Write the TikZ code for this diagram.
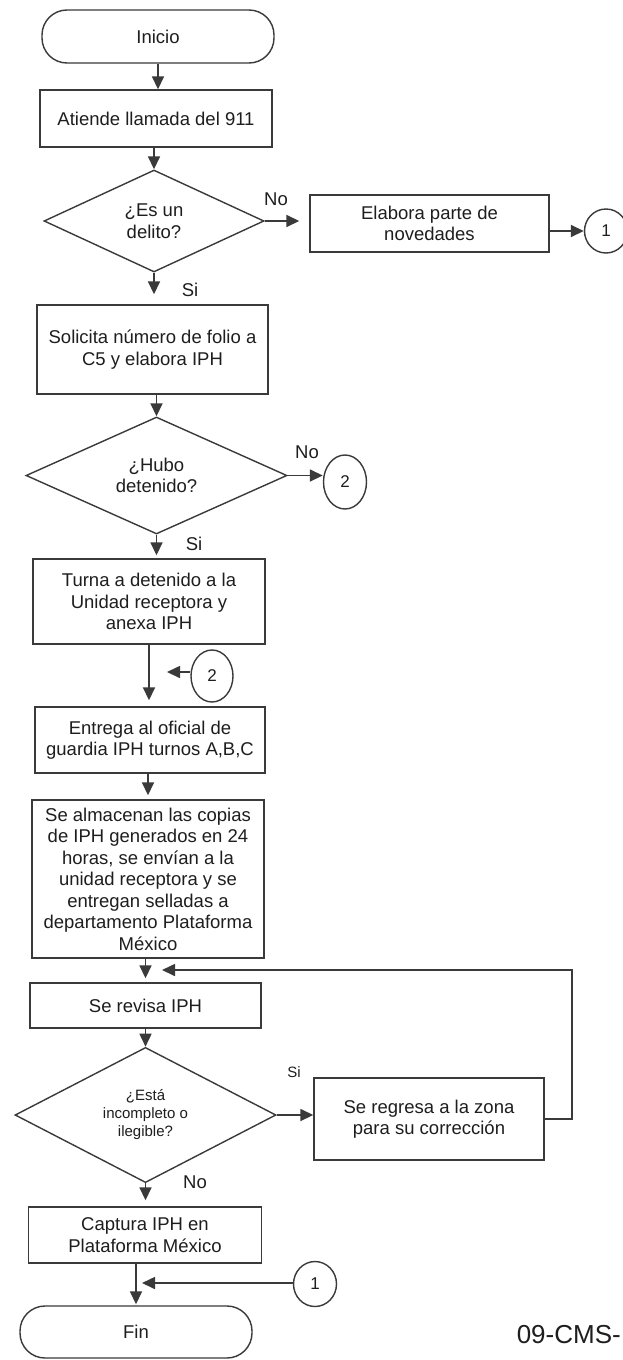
\documentclass[tikz,border=0pt]{standalone}
\usepackage{fontspec}
\setmainfont{Liberation Sans}
\usetikzlibrary{shapes.geometric,arrows.meta}

\definecolor{linegray}{HTML}{3A3A3A}
\definecolor{inkblack}{HTML}{1E1E1E}

\tikzset{
  base/.style={draw=linegray, line width=1.4pt, text=inkblack, align=center,
    inner sep=2pt, font=\fontsize{18.5}{21.5}\selectfont},
  proc/.style={base, rectangle},
  term/.style={base, rectangle, rounded corners=25pt},
  decision/.style={base, diamond, inner sep=0pt},
  conn/.style={base, ellipse, inner sep=0pt, minimum width=43pt, minimum height=54pt,
    font=\fontsize{17}{19}\selectfont},
  lbl/.style={text=inkblack, inner sep=0pt, font=\fontsize{18.5}{21.5}\selectfont},
  smalltext/.style={font=\fontsize{15}{18}\selectfont},
  arr/.style={draw=linegray, line width=1.6pt,
    -{Triangle[length=13pt,width=12pt]}}
}

\begin{document}
\begin{tikzpicture}[x=1pt,y=-1pt]
\useasboundingbox[fill=white] (0,0) rectangle (622,1360);

% process steps, decisions and terminators
\node[term, minimum width=232pt, minimum height=53pt] (inicio) at (158,36.5) {Inicio};
\node[proc, minimum width=232pt, minimum height=57pt] (atiende) at (156,118.5) {Atiende llamada del 911};
\node[decision, minimum width=220pt, minimum height=102pt] (d1) at (154,221) {¿Es un\\delito?};
\node[proc, minimum width=239pt, minimum height=57pt] (elabora) at (429.5,223.5) {Elabora parte de\\novedades};
\node[conn, minimum height=44pt] (c1a) at (606,231) {1};
\node[proc, minimum width=231pt, minimum height=89pt] (solicita) at (152.5,349.5) {Solicita número de folio a\\C5 y elabora IPH};
\node[decision, minimum width=261pt, minimum height=117pt] (d2) at (156.5,475.5) {¿Hubo\\detenido?};
\node[conn] (c2a) at (345,482) {2};
\node[proc, minimum width=232pt, minimum height=85pt] (turna) at (149,601.5) {Turna a detenido a la\\Unidad receptora y\\anexa IPH};
\node[conn, minimum width=42pt, minimum height=52pt] (c2b) at (212,676) {2};
\node[proc, minimum width=230pt, minimum height=66pt] (entrega) at (150,740) {Entrega al oficial de\\guardia IPH turnos A,B,C};
\node[proc, minimum width=232pt, minimum height=158pt] (almacena) at (148,879) {Se almacenan las copias\\de IPH generados en 24\\horas, se envían a la\\unidad receptora y se\\entregan selladas a\\departamento Plataforma\\México};
\node[proc, minimum width=231pt, minimum height=45pt] (revisa) at (145.5,1005.5) {Se revisa IPH};
\node[decision, smalltext, minimum width=261pt, minimum height=126pt] (d3) at (145.5,1115) {¿Está\\incompleto o\\ilegible?};
\node[proc, minimum width=230pt, minimum height=82pt] (regresa) at (429,1119) {Se regresa a la zona\\para su corrección};
\node[proc, minimum width=233pt, minimum height=56pt] (captura) at (145,1235) {Captura IPH en\\Plataforma México};
\node[conn, minimum width=43pt, minimum height=45pt] (c1b) at (315,1284) {1};
\node[term, minimum width=232pt, minimum height=52pt] (fin) at (136,1332) {Fin};
\node[lbl, anchor=east, font=\fontsize{26}{30}\selectfont] (codigo) at (621,1335) {09-CMS-};

% branch labels
\node[lbl] (no1) at (276,199) {No};
\node[lbl] (si1) at (190,290) {Si};
\node[lbl] (no2) at (307,452) {No};
\node[lbl] (si2) at (194,544) {Si};
\node[lbl, smalltext] (si3) at (294,1072) {Si};
\node[lbl] (no3) at (195,1182) {No};

% free ends of the joining arrows
\coordinate (j2) at (167,672);
\coordinate (j3) at (162,970);
\coordinate (loopc) at (572,970);
\coordinate (j1) at (142,1283);

% connectors
\draw[arr] (inicio.south) -- (inicio.south |- atiende.north);
\draw[arr] (d1.north |- atiende.south) -- (d1.north);
\draw[arr, shorten >=10pt] (d1.south) -- (d1.south |- solicita.north);
\draw[arr, shorten >=10pt] (d1.east) -- (elabora.west |- d1.east);
\draw[arr] (elabora.east |- c1a.west) -- (c1a.west);
\draw[arr] (d2.north |- solicita.south) -- (d2.north);
\draw[arr] (d2.east) -- (c2a.west |- d2.east);
\draw[arr, shorten >=3pt] (d2.south) -- (d2.south |- turna.north);
\draw[arr, shorten >=6pt] (turna.south) -- (turna.south |- entrega.north);
\draw[arr] (c2b.west |- j2) -- (j2);
\draw[arr, shorten >=4pt] (almacena.north |- entrega.south) -- (almacena.north);
\draw[arr, shorten >=4pt] (revisa.north |- almacena.south) -- (revisa.north);
\draw[arr] (d3.north |- revisa.south) -- (d3.north);
\draw[arr] (d3.east) -- (regresa.west |- d3.east);
\draw[arr] (regresa.east) -| (loopc) -- (j3);
\draw[arr, shorten >=6pt] (d3.south) -- (d3.south |- captura.north);
\draw[arr, shorten >=1pt] (fin.north |- captura.south) -- (fin.north);
\draw[arr] (c1b.west |- j1) -- (j1);
\end{tikzpicture}
\end{document}
